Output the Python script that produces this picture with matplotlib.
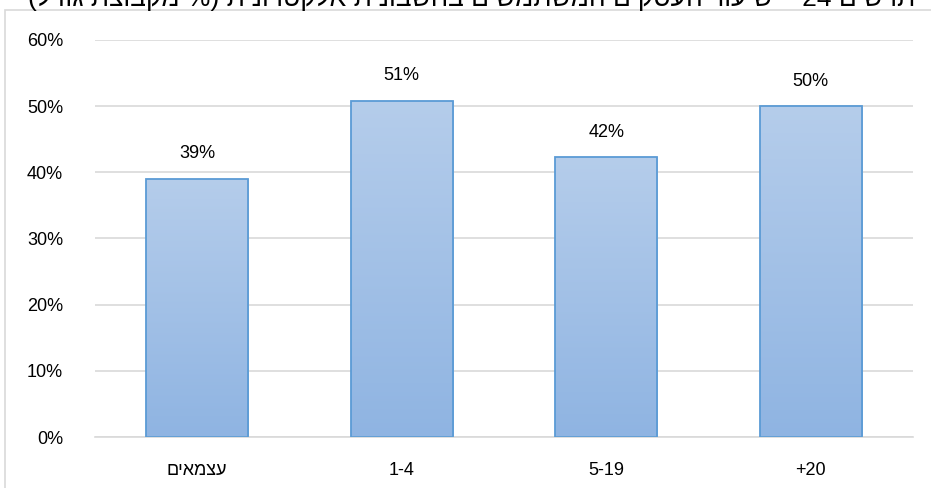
import re
import numpy as np
import matplotlib
matplotlib.use("Agg")
import matplotlib.pyplot as plt
from matplotlib.patches import Rectangle

plt.rcParams['font.family'] = ['Liberation Sans', 'DejaVu Sans']

# data
categories = ["עצמאים", "1-4", "5-19", "+20"]
values = [0.39, 0.508, 0.423, 0.50]
labels = ["39%", "51%", "42%", "50%"]
yticks = [0, 0.1, 0.2, 0.3, 0.4, 0.5, 0.6]
title = "תרשים 24 – שיעור העסקים המשתמשים בחשבונית אלקטרונית (% מקבוצת גודל)"


def rtl(s):
    # matplotlib has no bidi, so flip hebrew to visual order by hand
    if not re.search(r"[\u0590-\u05FF]", s):
        return s
    r = s[::-1]
    r = re.sub(r"[0-9][0-9\-]*", lambda m: m.group(0)[::-1], r)
    return r.translate(str.maketrans("()", ")("))


W, H = 931, 488
fig = plt.figure(figsize=(W / 100, H / 100), dpi=100)
ax = fig.add_axes([95 / W, (H - 437) / H, (913 - 95) / W, (437 - 40) / H])

# outer chart frame (cut off on right/bottom like the screenshot)
fig.patches.append(Rectangle((5 / W, -0.1), 1.2, 1 - 10 / H + 0.1, transform=fig.transFigure,
                             fill=False, edgecolor="#d9d9d9", lw=1.2, zorder=0))

fig.text(28 / W, 1 - 6 / H, rtl(title), ha="left", va="baseline", fontsize=19, color="black")

x = np.arange(len(categories))
bw = 0.5
grad = np.linspace(0, 1, 256).reshape(-1, 1)
top_c = np.array([181, 205, 235]) / 255
bot_c = np.array([143, 180, 226]) / 255
img = (bot_c[None, None, :] * (1 - grad[..., None]) + top_c[None, None, :] * grad[..., None])

bars = ax.bar(x, values, width=bw, color="none", edgecolor="#5b9bd5", lw=1.3, zorder=3)
for b in bars:
    x0, y0 = b.get_x(), b.get_y()
    w, h = b.get_width(), b.get_height()
    im = ax.imshow(img, extent=[x0, x0 + w, y0, y0 + h], origin="lower", aspect="auto", zorder=2)
    im.set_clip_path(b)

for xi, v, lab in zip(x, values, labels):
    ax.text(xi, v + 0.025, lab, ha="center", va="bottom", fontsize=13)

ax.set_xlim(-0.5, len(categories) - 0.5)
ax.set_ylim(0, 0.6)
ax.set_yticks(yticks)
ax.set_yticklabels([f"{int(round(t * 100))}%" for t in yticks], fontsize=13)
ax.set_xticks(x)
ax.set_xticklabels([rtl(c) for c in categories], fontsize=13)
ax.tick_params(length=0)
ax.tick_params(axis="x", pad=18)
ax.tick_params(axis="y", pad=23)
ax.grid(axis="y", color="#d9d9d9", lw=1.2, zorder=0)
ax.set_axisbelow(True)
for s in ["top", "right", "left"]:
    ax.spines[s].set_visible(False)
ax.spines["bottom"].set_color("#d9d9d9")
ax.spines["bottom"].set_linewidth(1.2)

fig.savefig("out.png", dpi=100)
